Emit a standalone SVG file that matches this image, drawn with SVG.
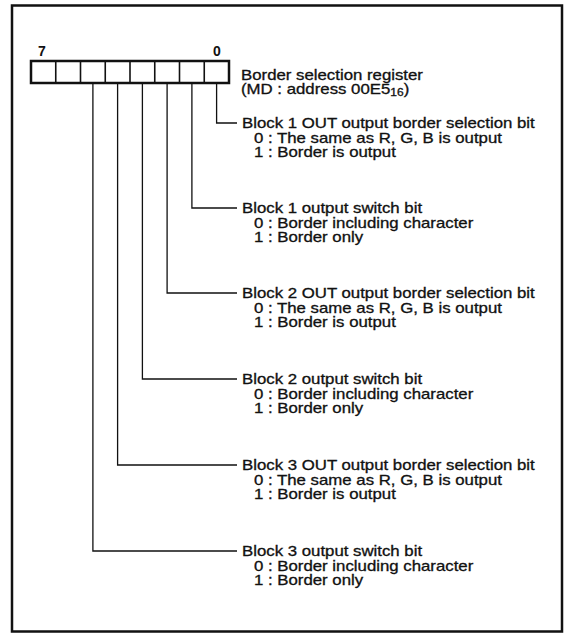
<svg xmlns="http://www.w3.org/2000/svg" width="565" height="633" viewBox="0 0 565 633">
<style>
text{font-family:"Liberation Sans",Arial,sans-serif;font-size:14px;fill:#111;stroke:#111;stroke-width:0.3}
.frame{fill:none;stroke:#111;stroke-width:2.5}
.reg{fill:#fff;stroke:#111;stroke-width:2.5}
.div{stroke:#111;stroke-width:1.6}
.conn{fill:none;stroke:#111;stroke-width:1.3}
.bit{font-weight:bold;stroke-width:0}
</style>
<rect width="565" height="633" fill="#fff"/>
<rect class="frame" x="12" y="5.5" width="550" height="626"/>
<g id="register">
<rect class="reg" x="31" y="61" width="198" height="22"/>
<line class="div" x1="55.75" y1="61" x2="55.75" y2="83"/>
<line class="div" x1="80.5" y1="61" x2="80.5" y2="83"/>
<line class="div" x1="105.25" y1="61" x2="105.25" y2="83"/>
<line class="div" x1="130" y1="61" x2="130" y2="83"/>
<line class="div" x1="154.75" y1="61" x2="154.75" y2="83"/>
<line class="div" x1="179.5" y1="61" x2="179.5" y2="83"/>
<line class="div" x1="204.25" y1="61" x2="204.25" y2="83"/>
<text class="bit" x="42" y="56" text-anchor="middle">7</text>
<text class="bit" x="217" y="56" text-anchor="middle">0</text>
<g transform="translate(241,80) scale(1.2,1)">
<text x="0" y="0">Border selection register</text>
<text x="0" y="14">(MD : address 00E5<tspan font-size="10" dy="2">16</tspan><tspan dy="-2">)</tspan></text>
</g>
</g>
<g id="connectors">
<polyline class="conn" points="216.6,83 216.6,123 237,123"/>
<polyline class="conn" points="191.9,83 191.9,208 237,208"/>
<polyline class="conn" points="167.1,83 167.1,293 237,293"/>
<polyline class="conn" points="142.4,83 142.4,379 237,379"/>
<polyline class="conn" points="117.6,83 117.6,465 237,465"/>
<polyline class="conn" points="92.9,83 92.9,551 237,551"/>
</g>
<g id="bit0" transform="translate(242,128) scale(1.2,1)">
<text x="0" y="0">Block 1 OUT output border selection bit</text>
<text x="10" y="15">0 : The same as R, G, B is output</text>
<text x="10" y="29">1 : Border is output</text>
</g>
<g id="bit1" transform="translate(242,213) scale(1.2,1)">
<text x="0" y="0">Block 1 output switch bit</text>
<text x="10" y="15">0 : Border including character</text>
<text x="10" y="29">1 : Border only</text>
</g>
<g id="bit2" transform="translate(242,298) scale(1.2,1)">
<text x="0" y="0">Block 2 OUT output border selection bit</text>
<text x="10" y="15">0 : The same as R, G, B is output</text>
<text x="10" y="29">1 : Border is output</text>
</g>
<g id="bit3" transform="translate(242,384) scale(1.2,1)">
<text x="0" y="0">Block 2 output switch bit</text>
<text x="10" y="15">0 : Border including character</text>
<text x="10" y="29">1 : Border only</text>
</g>
<g id="bit4" transform="translate(242,470) scale(1.2,1)">
<text x="0" y="0">Block 3 OUT output border selection bit</text>
<text x="10" y="15">0 : The same as R, G, B is output</text>
<text x="10" y="29">1 : Border is output</text>
</g>
<g id="bit5" transform="translate(242,556) scale(1.2,1)">
<text x="0" y="0">Block 3 output switch bit</text>
<text x="10" y="15">0 : Border including character</text>
<text x="10" y="29">1 : Border only</text>
</g>
</svg>
